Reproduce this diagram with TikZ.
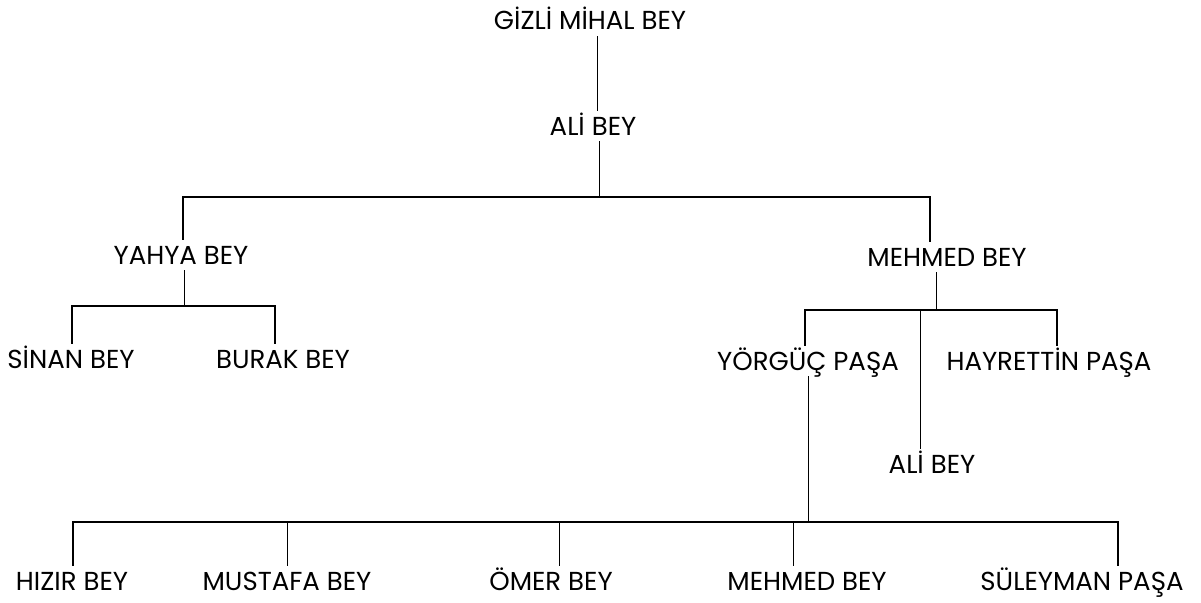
\documentclass[tikz,border=0pt]{standalone}
\usepackage{fontspec}
\setmainfont{Poppins}
\usepackage{tikz}
\tikzstyle{person} = [inner xsep=0pt, inner ysep=6pt, text height=18pt, text depth=0pt, font=\fontsize{26}{30}\selectfont]
\tikzstyle{bar} = [line width=2pt]
\tikzstyle{stem} = [line width=0.8pt]

\begin{document}
\begin{tikzpicture}[x=1pt, y=-1pt]
   \useasboundingbox (0,0) rectangle (1201,602);
   % first generations
   \node (gizli) [person] at (590,21) {GİZLİ MİHAL BEY};
   \node (ali) [person] at (593,126) {ALİ BEY};
   \node (yahya) [person] at (181,255) {YAHYA BEY};
   \node (mehmed) [person] at (947,257) {MEHMED BEY};
   \node (sinan) [person] at (71,359) {SİNAN BEY};
   \node (burak) [person] at (283,359) {BURAK BEY};
   \node (yorguc) [person] at (808,361) {YÖRGÜÇ PAŞA};
   \node (hayrettin) [person] at (1049,361) {HAYRETTİN PAŞA};
   \node (alitwo) [person] at (932,464) {ALİ BEY};
   % sons of Yörgüç Paşa
   \node (hizir) [person] at (72,581) {HIZIR BEY};
   \node (mustafa) [person] at (287,581) {MUSTAFA BEY};
   \node (omer) [person] at (551,581) {ÖMER BEY};
   \node (mehmedtwo) [person] at (807,581) {MEHMED BEY};
   \node (suleyman) [person] at (1082,581) {SÜLEYMAN PAŞA};

   \coordinate (jA) at (599,197);
   \coordinate (jL) at (183,197);
   \coordinate (jR) at (930,197);
   \coordinate (mA) at (184,306);
   \coordinate (mL) at (72,306);
   \coordinate (mR) at (275,306);
   \coordinate (kA) at (936,310);
   \coordinate (kL) at (805,310);
   \coordinate (kM) at (920,310);
   \coordinate (kR) at (1057,310);
   \coordinate (bA) at (808,522);
   \coordinate (bL) at (73,522);
   \coordinate (bR) at (1118,522);
   \coordinate (bMu) at (287,522);
   \coordinate (bO) at (559,522);
   \coordinate (bMe) at (793,522);

   \draw [stem] ([xshift=7pt]gizli.south) -- ([xshift=4pt]ali.north);
   \draw [stem] ([xshift=6pt]ali.south) -- (jA);
   \draw [bar] (yahya.north -| jL) -- (jL) -- (jR) -- (mehmed.north -| jR);

   \draw [stem] ([xshift=3pt]yahya.south) -- (mA);
   \draw [bar] (sinan.north -| mL) -- (mL) -- (mR) -- (burak.north -| mR);

   \draw [stem] ([xshift=-11pt]mehmed.south) -- (kA);
   \draw [bar] (yorguc.north -| kL) -- (kL) -- (kR) -- (hayrettin.north -| kR);
   \draw [stem] (kM) -- (alitwo.north -| kM);

   \draw [stem] (yorguc.south -| bA) -- (bA);
   \draw [bar] (hizir.north -| bL) -- (bL) -- (bR) -- (suleyman.north -| bR);
   \draw [stem] (bMu) -- (mustafa.north -| bMu);
   \draw [stem] (bO) -- (omer.north -| bO);
   \draw [stem] (bMe) -- (mehmedtwo.north -| bMe);
\end{tikzpicture}
\end{document}
